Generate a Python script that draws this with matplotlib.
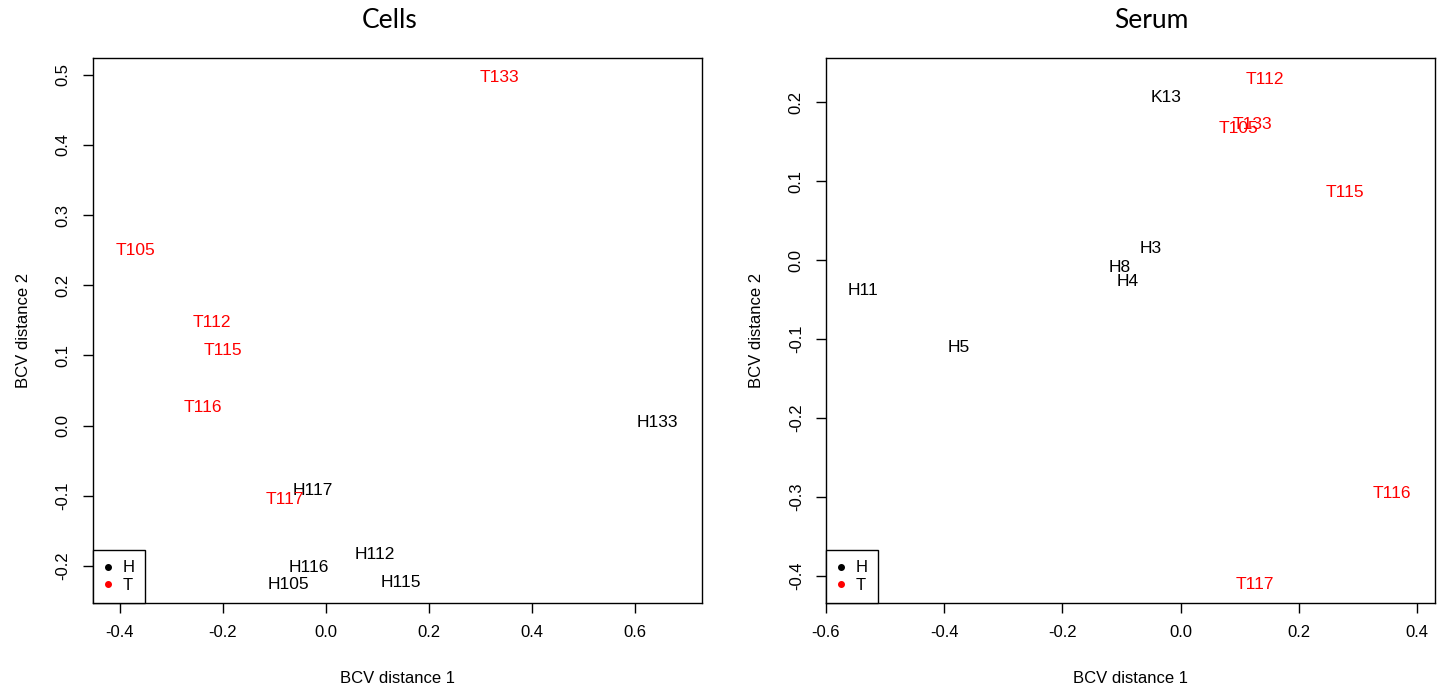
import matplotlib.pyplot as plt
from matplotlib.lines import Line2D

plt.rcParams['font.family'] = ['Liberation Sans', 'DejaVu Sans']

# Cells panel
cells_labels = ['T133', 'T105', 'T112', 'T115', 'T116', 'H133', 'H117', 'T117',
                'H112', 'H116', 'H105', 'H115']
cells_x = [0.336, -0.369, -0.221, -0.200, -0.239, 0.643, -0.025, -0.080,
           0.095, -0.033, -0.072, 0.146]
cells_y = [0.496, 0.250, 0.147, 0.107, 0.026, 0.004, -0.093, -0.106,
           -0.184, -0.203, -0.226, -0.224]

# Serum panel
serum_labels = ['T112', 'K13', 'T133', 'T105', 'T115', 'H3', 'H8', 'H4',
                'H11', 'H5', 'T116', 'T117']
serum_x = [0.142, -0.024, 0.122, 0.097, 0.278, -0.051, -0.103, -0.090,
           -0.537, -0.375, 0.357, 0.125]
serum_y = [0.229, 0.206, 0.172, 0.167, 0.086, 0.015, -0.009, -0.027,
           -0.039, -0.110, -0.295, -0.410]

group_colors = {'H': 'black', 'K': 'black', 'T': '#ff0000'}


def mds_panel(ax, labels, xs, ys, xlim, ylim, xticks, yticks):
    for lab, x, y in zip(labels, xs, ys):
        ax.text(x, y, lab, color=group_colors[lab[0]], fontsize=12.5,
                ha='center', va='center')
    ax.set_xlim(*xlim)
    ax.set_ylim(*ylim)
    ax.set_xticks(xticks)
    ax.set_yticks(yticks)
    ax.set_xticklabels([f'{t:.1f}' for t in xticks])
    ax.set_yticklabels([f'{t:.1f}' for t in yticks], rotation=90, va='center')
    ax.tick_params(direction='out', length=7, width=1, labelsize=12, pad=9)
    ax.set_xlabel('BCV distance 1', fontsize=12, labelpad=22)
    ax.set_ylabel('BCV distance 2', fontsize=12, labelpad=18)
    for s in ax.spines.values():
        s.set_linewidth(1)
    handles = [Line2D([], [], ls='', marker='o', ms=4, color='black'),
               Line2D([], [], ls='', marker='o', ms=4, color='#ff0000')]
    leg = ax.legend(handles, ['H', 'T'], loc='lower left', borderaxespad=0,
                    fancybox=False, edgecolor='black', fontsize=12,
                    handlelength=0.6, handletextpad=0.6, labelspacing=0.15,
                    borderpad=0.6, framealpha=1)
    leg.get_frame().set_linewidth(1)


fig = plt.figure(figsize=(14.39, 6.87), dpi=100)
ax1 = fig.add_axes([0.0646, 0.1223, 0.4232, 0.7933])
ax2 = fig.add_axes([0.5740, 0.1223, 0.4232, 0.7933])

mds_panel(ax1, cells_labels, cells_x, cells_y,
          (-0.452, 0.730), (-0.253, 0.524),
          [-0.4, -0.2, 0.0, 0.2, 0.4, 0.6],
          [-0.2, -0.1, 0.0, 0.1, 0.2, 0.3, 0.4, 0.5])
mds_panel(ax2, serum_labels, serum_x, serum_y,
          (-0.6, 0.43), (-0.434, 0.256),
          [-0.6, -0.4, -0.2, 0.0, 0.2, 0.4],
          [-0.4, -0.3, -0.2, -0.1, 0.0, 0.1, 0.2])

fig.text(390 / 1439, 1 - 20 / 687, 'Cells', fontsize=19, family='Lato',
         ha='center', va='center')
fig.text(1151 / 1439, 1 - 20 / 687, 'Serum', fontsize=19, family='Lato',
         ha='center', va='center')

fig.savefig('out.png', dpi=100)
